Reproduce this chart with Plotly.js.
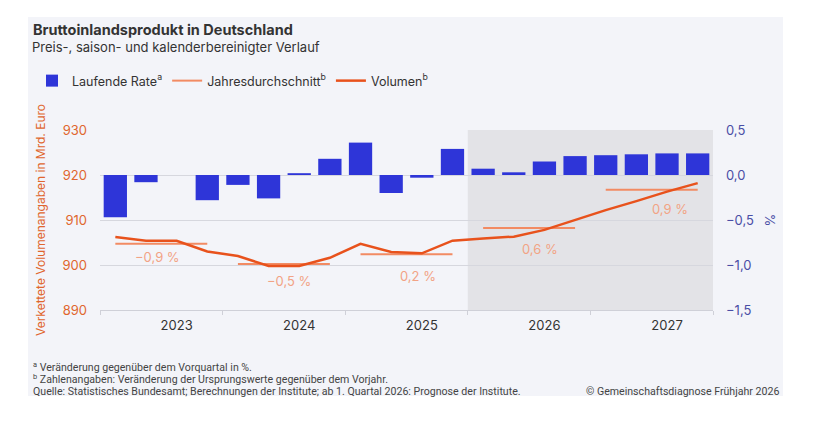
<!DOCTYPE html>
<html><head><meta charset="utf-8">
<script src="https://cdn.plot.ly/plotly-3.0.1.min.js"></script>
<style>html,body{margin:0;padding:0;background:#fff}#chart{width:832px;height:437px}</style>
</head><body><div id="chart"></div>
<script>
const years = ['2023', '2024', '2025', '2026', '2027'];
const quarters = [
  '2023 Q1','2023 Q2','2023 Q3','2023 Q4',
  '2024 Q1','2024 Q2','2024 Q3','2024 Q4',
  '2025 Q1','2025 Q2','2025 Q3','2025 Q4',
  '2026 Q1','2026 Q2','2026 Q3','2026 Q4',
  '2027 Q1','2027 Q2','2027 Q3','2027 Q4'
];
// Laufende Rate (% gegenüber Vorquartal), right axis
const rateValues = [-0.47, -0.08, 0.00, -0.28, -0.11, -0.26, 0.02, 0.18, 0.36, -0.20,
                    -0.03, 0.29, 0.07, 0.03, 0.15, 0.21, 0.22, 0.23, 0.24, 0.24];
// Volumen (Mrd. Euro), left axis
const volumeValues = [906.2, 905.4, 905.4, 903.0, 902.0, 899.8, 899.8, 901.6, 904.7, 902.9,
                      902.6, 905.4, 905.9, 906.3, 907.8, 910.0, 912.2, 914.2, 916.3, 918.2];
// Jahresdurchschnitt (Mrd. Euro) and its growth rate label (%)
const yearlyAverage = [904.7, 900.2, 902.4, 908.2, 916.7];
const yearlyGrowth = [-0.9, -0.5, 0.2, 0.6, 0.9];
const forecastStart = '2026 Q1';

// ---------- layout helpers ----------
const W = 832, H = 437, ML = 100, MR = 119, MT = 130, MB = 127;
const PW = W - ML - MR, PH = H - MT - MB;
const px2x = p => (p - ML) / PW;
const px2y = p => 1 - (p - MT) / PH;

const xIdx = quarters.map((q, i) => i);
const fmt = v => (v < 0 ? '\u2212' : '') + Math.abs(v).toFixed(1).replace('.', ',') + ' %';

// annual average segments from Q1 to Q4 of each year
const avgX = [], avgY = [];
years.forEach((y, k) => {
  const idx = quarters.map((q, i) => q.startsWith(y) ? i : -1).filter(i => i >= 0);
  avgX.push(idx[0], idx[idx.length - 1], null);
  avgY.push(yearlyAverage[k], yearlyAverage[k], null);
});

const traces = [
  {
    type: 'bar', x: xIdx, y: rateValues, yaxis: 'y', width: 0.76,
    marker: {color: '#2e35d8'}, name: 'Laufende Rate<sup>a</sup>', hoverinfo: 'skip'
  },
  {
    type: 'scatter', mode: 'lines', x: avgX, y: avgY, yaxis: 'y2', connectgaps: false,
    line: {color: '#f28b63', width: 2}, name: 'Jahresdurchschnitt<sup>b</sup>', hoverinfo: 'skip'
  },
  {
    type: 'scatter', mode: 'lines', x: xIdx, y: volumeValues, yaxis: 'y2',
    line: {color: '#e8521c', width: 2.5}, name: 'Volumen<sup>b</sup>', hoverinfo: 'skip'
  }
];

const labelShift = [[-0.13, -13], [0.15, -17], [0.36, -22], [0.35, -21], [0.59, -19]];
const annotations = yearlyGrowth.map((g, k) => ({
  x: 4 * k + 1.5 + labelShift[k][0], y: yearlyAverage[k], xref: 'x', yref: 'y2',
  text: fmt(g), showarrow: false, yshift: labelShift[k][1], yanchor: 'middle',
  font: {family: 'Inter, sans-serif', size: 13, color: '#f2a385'}
}));

const noteFont = {family: 'Roboto, sans-serif', size: 10.6, color: '#444'};
annotations.push(
  {xref: 'paper', yref: 'paper', x: px2x(30), y: px2y(47), xanchor: 'left', yanchor: 'middle',
   text: 'Preis-, saison- und kalenderbereinigter Verlauf', showarrow: false,
   font: {family: 'Inter, sans-serif', size: 13, color: '#333'}},
  {xref: 'paper', yref: 'paper', x: px2x(31), y: px2y(367), xanchor: 'left', yanchor: 'middle',
   text: '<sup>a</sup> Veränderung gegenüber dem Vorquartal in %.', showarrow: false, font: noteFont},
  {xref: 'paper', yref: 'paper', x: px2x(31), y: px2y(379), xanchor: 'left', yanchor: 'middle',
   text: '<sup>b</sup> Zahlenangaben: Veränderung der Ursprungswerte gegenüber dem Vorjahr.', showarrow: false, font: noteFont},
  {xref: 'paper', yref: 'paper', x: px2x(31), y: px2y(391), xanchor: 'left', yanchor: 'middle',
   text: 'Quelle: Statistisches Bundesamt; Berechnungen der Institute; ab 1. Quartal 2026: Prognose der Institute.', showarrow: false, font: noteFont},
  {xref: 'paper', yref: 'paper', x: px2x(781), y: px2y(391), xanchor: 'right', yanchor: 'middle',
   text: '© Gemeinschaftsdiagnose Frühjahr 2026', showarrow: false, font: noteFont}
);

const fIdx = quarters.indexOf(forecastStart);
const shapes = [
  {type: 'rect', xref: 'paper', yref: 'paper', x0: px2x(28), x1: px2x(783), y0: px2y(396), y1: px2y(17),
   fillcolor: '#f3f4f9', line: {width: 0}, layer: 'below'},
  {type: 'rect', xref: 'x', yref: 'paper', x0: fIdx - 0.5, x1: quarters.length - 0.5, y0: 0, y1: 1,
   fillcolor: '#e3e3e7', line: {width: 0}, layer: 'below'}
];

const layout = {
  width: W, height: H,
  margin: {l: ML, r: MR, t: MT, b: MB},
  paper_bgcolor: '#ffffff', plot_bgcolor: 'rgba(0,0,0,0)',
  separators: ',.',
  font: {family: 'Inter, sans-serif', color: '#333'},
  title: {
    text: '<b>Bruttoinlandsprodukt in Deutschland</b>',
    xref: 'container', yref: 'container', x: 33 / W, xanchor: 'left', y: 1 - 30 / H, yanchor: 'middle',
    font: {family: 'Inter, sans-serif', size: 14.5, color: '#333'}
  },
  showlegend: true,
  legend: {
    orientation: 'h', x: px2x(32), xanchor: 'left', y: px2y(66), yanchor: 'top',
    bgcolor: 'rgba(0,0,0,0)', font: {family: 'Inter, sans-serif', size: 12.5, color: '#333'},
    traceorder: 'normal', itemclick: false
  },
  xaxis: {
    range: [-0.5, quarters.length - 0.5], tickmode: 'array',
    tickvals: years.map((y, k) => 4 * k + 2), ticktext: years, ticks: '',
    tickfont: {family: 'Inter, sans-serif', size: 13, color: '#333'}, ticklabelstandoff: 3,
    showgrid: false, zeroline: false, showline: true, linecolor: '#cfd0d8', linewidth: 1,
    minor: {tickmode: 'linear', tick0: -0.5, dtick: 4, ticks: 'outside', ticklen: 4, tickcolor: '#cfd0d8', showgrid: false},
    fixedrange: true
  },
  yaxis: {
    side: 'right', range: [-1.5, 0.5], tickmode: 'linear', tick0: -1.5, dtick: 0.5, tickformat: '.1f',
    showgrid: true, gridcolor: '#d6d7de', gridwidth: 1, zeroline: true, zerolinecolor: '#d6d7de', zerolinewidth: 1,
    tickfont: {family: 'Inter, sans-serif', size: 13, color: '#4a4ea6'}, ticklabelstandoff: 12,
    title: {text: '%', font: {family: 'Inter, sans-serif', size: 13, color: '#4a4ea6'}, standoff: 12},
    showline: false, fixedrange: true
  },
  yaxis2: {
    side: 'left', overlaying: 'y', range: [890, 930], tickmode: 'linear', tick0: 890, dtick: 10,
    showgrid: false, zeroline: false, showline: false,
    tickfont: {family: 'Inter, sans-serif', size: 13, color: '#e0662e'}, ticklabelstandoff: 12,
    title: {text: 'Verkettete Volumenangaben in Mrd. Euro', font: {family: 'Inter, sans-serif', size: 12, color: '#e0662e'}, standoff: 14},
    fixedrange: true
  },
  bargap: 0.24,
  shapes: shapes,
  annotations: annotations
};

Plotly.newPlot('chart', traces, layout, {displayModeBar: false, staticPlot: true});
</script>
</body></html>
